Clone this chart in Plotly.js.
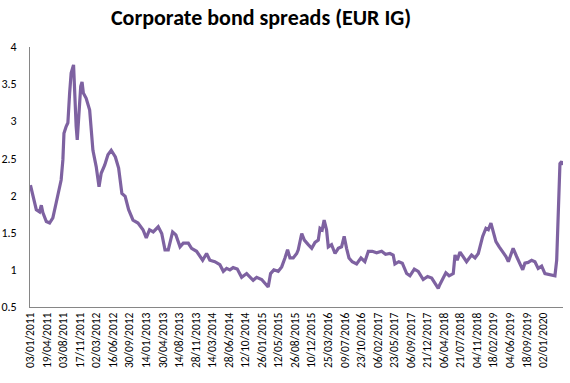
<!DOCTYPE html>
<html>
<head>
<meta charset="utf-8">
<script src="https://cdn.plot.ly/plotly-3.0.1.min.js"></script>
<style>html,body{margin:0;padding:0;background:#fff;}#chart{width:570px;height:383px;}</style>
</head>
<body>
<div id="chart"></div>
<script>
// Business-day index (from 03/01/2011) of each sampled observation
const dayIndex = [0,11,27,42,50,57,73,88,103,118,134,141,149,154,164,172,180,187,198,203,210,215,221,231,237,243,256,272,287,302,315,325,341,356,371,390,405,420,435,451,471,494,517,532,547,
564,587,603,618,633,653,668,687,702,725,740,763,791,809,824,847,870,886,901,916,931,950,970,993,1008,1023,1039,1062,1077,1092,1103,1118,1138,1154,1169,1181,1192,1207,1223,1230,
1246,1258,1276,1292,1307,1322,1330,1340,1349,1360,1368,1383,1399,1414,1429,1441,1452,1463,1478,1498,1518,1536,1552,1570,1590,1613,1631,1651,1666,1674,1692,1708,1728,1743,1763,1781,1804,1824,1843,1858,1873,1880,1896,
1908,1923,1942,1950,1960,1973,1988,2003,2026,2042,2057,2064,2077,2092,2103,2115,2126,2138,2153,2169,2184,2195,2206,2217,2233,2248,2261,2271,2286,2302,2317,2332,2348,2363,2386,2409,2417,2424,2432,2440,2444];
// Spread values (%)
const spread = [2.14,1.99,1.81,1.78,1.87,1.77,1.65,1.63,1.70,1.90,2.12,2.21,2.48,2.84,2.93,2.98,3.38,3.65,3.76,3.33,2.93,2.75,3.02,3.47,3.53,3.38,3.31,3.15,2.61,2.39,2.12,2.30,2.41,2.55,2.61,2.52,2.37,2.03,1.99,1.81,1.67,1.63,1.54,1.43,1.54,
1.51,1.58,1.49,1.27,1.27,1.51,1.47,1.31,1.36,1.36,1.29,1.25,1.13,1.22,1.13,1.11,1.07,0.98,1.02,1.00,1.03,1.01,0.90,0.95,0.90,0.86,0.90,0.87,0.82,0.77,0.95,1.00,0.98,1.04,1.16,1.27,1.16,1.16,1.22,1.27,
1.49,1.40,1.34,1.29,1.37,1.40,1.56,1.54,1.67,1.54,1.31,1.34,1.22,1.29,1.31,1.45,1.29,1.16,1.11,1.08,1.16,1.11,1.25,1.25,1.23,1.25,1.21,1.22,1.20,1.08,1.11,1.09,0.95,0.92,1.01,0.98,0.87,0.91,0.89,0.82,0.75,0.80,0.89,
0.96,0.92,0.95,1.20,1.13,1.24,1.18,1.11,1.20,1.16,1.22,1.31,1.45,1.56,1.54,1.63,1.49,1.38,1.31,1.25,1.18,1.11,1.20,1.29,1.18,1.07,1.00,1.09,1.10,1.13,1.11,1.02,1.05,0.95,0.94,0.92,1.13,1.72,2.43,2.46,2.41];
// Category tick labels (every 76 business days)
const tickLabels = ["03/01/2011","19/04/2011","03/08/2011","17/11/2011","02/03/2012","16/06/2012","30/09/2012","14/01/2013","30/04/2013","14/08/2013","28/11/2013","14/03/2014","28/06/2014","12/10/2014","26/01/2015","12/05/2015","26/08/2015","10/12/2015","25/03/2016","09/07/2016","23/10/2016","06/02/2017","23/05/2017","06/09/2017","21/12/2017","06/04/2018","21/07/2018","04/11/2018","18/02/2019","04/06/2019","18/09/2019","02/01/2020"];
const tickStep = 76;
const tickPositions = tickLabels.map((_, i) => i * tickStep);

const font = "Carlito, Calibri, Lato, 'Open Sans', sans-serif";
Plotly.newPlot('chart', [{
  x: dayIndex, y: spread, type: 'scatter', mode: 'lines',
  line: {color: '#7e62a1', width: 3.2}, hoverinfo: 'skip'
}], {
  width: 570, height: 383,
  margin: {l: 30, r: 7, t: 47, b: 76},
  paper_bgcolor: '#fff', plot_bgcolor: '#fff',
  showlegend: false,
  title: {text: '<b>Corporate bond spreads (EUR IG)</b>', xref: 'container', x: 0.458, xanchor: 'center', y: 0.955, yanchor: 'middle',
          font: {family: font, size: 22, color: '#000'}},
  xaxis: {range: [-2, 2446], tickmode: 'array', tickvals: tickPositions, ticktext: tickLabels,
          tickangle: -90, showgrid: false, zeroline: false, showline: true, linecolor: '#868686', linewidth: 1,
          ticks: '', tickfont: {family: font, size: 11.5, color: '#000'}},
  yaxis: {range: [0.5, 4], tickmode: 'array', tickvals: [0.5,1,1.5,2,2.5,3,3.5,4], ticktext: ['0.5','1','1.5','2','2.5','3','3.5','4'],
          showgrid: false, zeroline: false, showline: true, linecolor: '#868686', linewidth: 1,
          ticks: '', ticklabelstandoff: 10, tickfont: {family: font, size: 12, color: '#000'}}
}, {staticPlot: true});
</script>
</body>
</html>
